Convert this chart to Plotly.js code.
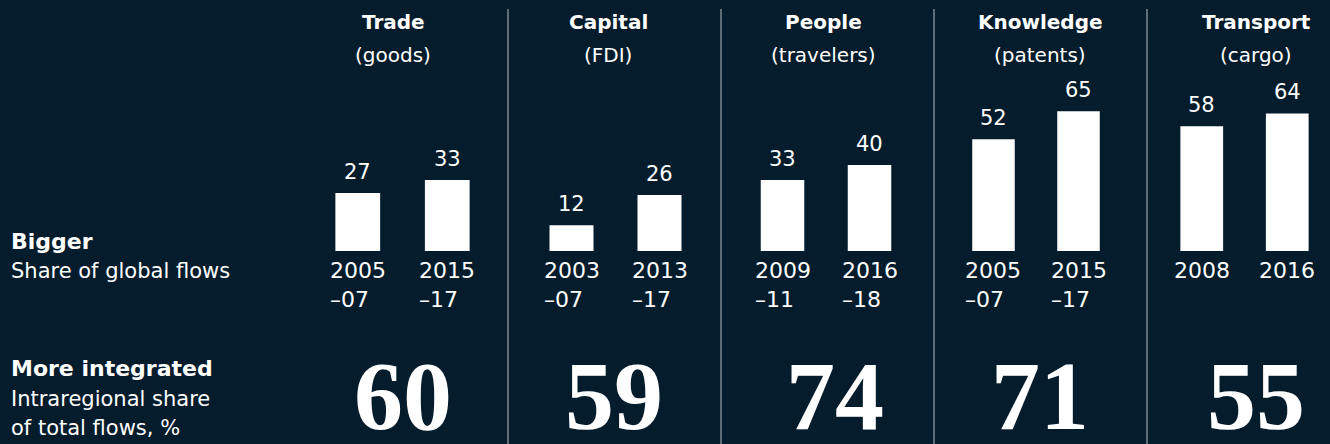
<!DOCTYPE html>
<html>
<head>
<meta charset="utf-8">
<script src="https://cdn.plot.ly/plotly-3.0.1.min.js"></script>
<style>
  html, body { margin: 0; padding: 0; background: #051c2c; }
  #chart { width: 1330px; height: 444px; }
</style>
</head>
<body>
<div id="chart"></div>
<script>
// ---- Data ----
const panels = ['Trade', 'Capital', 'People', 'Knowledge', 'Transport'];
const subtitles = ['(goods)', '(FDI)', '(travelers)', '(patents)', '(cargo)'];
const periods = [
  ['2005–07', '2015–17'],
  ['2003–07', '2013–17'],
  ['2009–11', '2016–18'],
  ['2005–07', '2015–17'],
  ['2008', '2016']
];
const globalShare = [
  [27, 33],
  [12, 26],
  [33, 40],
  [52, 65],
  [58, 64]
];
const intraregionalShare = [60, 59, 74, 71, 55];
const rowLabels = [
  { head: 'Bigger', sub: ['Share of global flows'] },
  { head: 'More integrated', sub: ['Intraregional share', 'of total flows, %'] }
];

// ---- Layout config (pixels) ----
const W = 1330, H = 444;
const BG = '#051c2c';
const SANS = 'DejaVu Sans, sans-serif';
const SERIF = 'Liberation Serif, Times New Roman, serif';
const plotDomainsPx = [[313, 492], [527.5, 703.5], [739, 913], [951, 1121], [1159, 1330]];
const titleCentersPx = [393, 608, 823, 1040, 1256];
const bigNumCentersPx = [403, 614, 835, 1040, 1256];
const separatorsPx = [508, 721, 934, 1147];
const barBottomPx = 251, yMax = 90, pxPerUnit = 2.15;

const px2x = p => p / W;
const px2y = p => 1 - p / H;
const yDomain = [px2y(barBottomPx), px2y(barBottomPx - yMax * pxPerUnit)];

const traces = [];
const layout = {
  width: W, height: H,
  margin: { l: 0, r: 0, t: 0, b: 0 },
  paper_bgcolor: BG, plot_bgcolor: BG,
  showlegend: false,
  annotations: [],
  shapes: []
};

panels.forEach((name, i) => {
  const xa = i === 0 ? 'x' : 'x' + (i + 1);
  const ya = i === 0 ? 'y' : 'y' + (i + 1);
  const xKey = i === 0 ? 'xaxis' : 'xaxis' + (i + 1);
  const yKey = i === 0 ? 'yaxis' : 'yaxis' + (i + 1);

  traces.push({
    type: 'bar',
    x: periods[i],
    y: globalShare[i],
    xaxis: xa, yaxis: ya,
    width: 0.5,
    marker: { color: '#ffffff', line: { width: 0 } },
    hoverinfo: 'skip'
  });

  layout[xKey] = {
    domain: [px2x(plotDomainsPx[i][0]), px2x(plotDomainsPx[i][1])],
    anchor: ya,
    type: 'category',
    range: [-0.5, 1.5],
    showticklabels: false, showgrid: false, zeroline: false, showline: false, ticks: ''
  };
  layout[yKey] = {
    domain: yDomain,
    anchor: xa,
    range: [0, yMax],
    showticklabels: false, showgrid: false, zeroline: false, showline: false, ticks: ''
  };

  // Panel titles
  layout.annotations.push({
    xref: 'paper', yref: 'paper', x: px2x(titleCentersPx[i]), y: px2y(22.5),
    xanchor: 'center', yanchor: 'middle', showarrow: false,
    text: '<b>' + name + '</b>',
    font: { family: SANS, size: 20, color: '#ffffff' }
  });
  layout.annotations.push({
    xref: 'paper', yref: 'paper', x: px2x(titleCentersPx[i]), y: px2y(55),
    xanchor: 'center', yanchor: 'middle', showarrow: false,
    text: subtitles[i],
    font: { family: SANS, size: 20, color: '#ffffff' }
  });

  // Value labels and period labels (category index on the panel's axis)
  periods[i].forEach((p, j) => {
    layout.annotations.push({
      xref: xa, yref: ya, x: j, y: globalShare[i][j],
      xanchor: 'center', yanchor: 'bottom', yshift: 7, showarrow: false,
      text: String(globalShare[i][j]),
      font: { family: SANS, size: 21, color: '#ffffff' }
    });
    layout.annotations.push({
      xref: xa, yref: ya, x: j, y: 0,
      xanchor: 'center', yanchor: 'top', yshift: -5, showarrow: false,
      align: 'left',
      text: p.replace('–', '<br>–'),
      font: { family: SANS, size: 22, color: '#ffffff' }
    });
  });

  // Big intraregional number
  layout.annotations.push({
    xref: 'paper', yref: 'paper', x: px2x(bigNumCentersPx[i]), y: px2y(396),
    xanchor: 'center', yanchor: 'middle', showarrow: false,
    text: '<b>' + intraregionalShare[i] + '</b>',
    font: { family: SERIF, size: 98, color: '#ffffff' }
  });
});

// Separators
separatorsPx.forEach(sx => {
  layout.shapes.push({
    type: 'line', xref: 'paper', yref: 'paper',
    x0: px2x(sx), x1: px2x(sx), y0: 0, y1: px2y(9),
    line: { color: '#7d8891', width: 1.5 }
  });
});

// Row labels (left)
const rowHeadY = [241, 368];
const rowSubY = [[271], [399, 428]];
rowLabels.forEach((r, k) => {
  layout.annotations.push({
    xref: 'paper', yref: 'paper', x: px2x(9), y: px2y(rowHeadY[k]),
    xanchor: 'left', yanchor: 'middle', showarrow: false,
    text: '<b>' + r.head + '</b>',
    font: { family: SANS, size: 22, color: '#ffffff' }
  });
  r.sub.forEach((s, m) => {
    layout.annotations.push({
      xref: 'paper', yref: 'paper', x: px2x(9), y: px2y(rowSubY[k][m]),
      xanchor: 'left', yanchor: 'middle', showarrow: false,
      text: s,
      font: { family: SANS, size: 21, color: '#ffffff' }
    });
  });
});

Plotly.newPlot('chart', traces, layout, { staticPlot: true, displayModeBar: false });
</script>
</body>
</html>
